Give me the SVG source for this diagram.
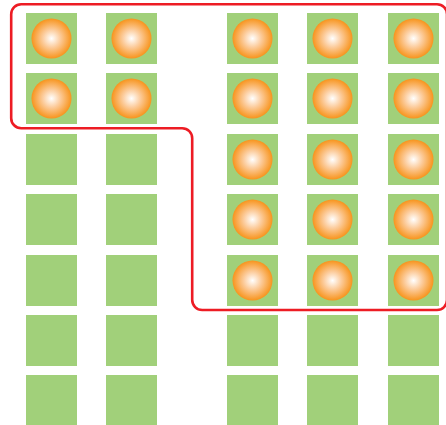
<svg xmlns="http://www.w3.org/2000/svg" width="446" height="425" viewBox="0 0 446 425">
<style>
.sq{fill:#A1D07A}
.ball{fill:url(#g)}
.conn{fill:none;stroke:#ED1C24;stroke-width:2.6}
</style>
<defs>
<radialGradient id="g" cx="0.5" cy="0.5" r="0.5">
<stop offset="0" stop-color="#FFFFFF"/>
<stop offset="0.45" stop-color="#FCCB9A"/>
<stop offset="1" stop-color="#F7941D"/>
</radialGradient>
<symbol id="cell" overflow="visible"><rect class="sq" x="0" y="0" width="51" height="51"/></symbol>
<symbol id="cellb" overflow="visible"><rect class="sq" x="0" y="0" width="51" height="51"/><circle class="ball" cx="25.5" cy="25.5" r="20"/></symbol>
</defs>
<g id="c1r1"><use href="#cellb" x="26" y="13"/></g>
<g id="c2r1"><use href="#cellb" x="106" y="13"/></g>
<g id="c3r1"><use href="#cellb" x="227" y="13"/></g>
<g id="c4r1"><use href="#cellb" x="307" y="13"/></g>
<g id="c5r1"><use href="#cellb" x="388" y="13"/></g>
<g id="c1r2"><use href="#cellb" x="26" y="73"/></g>
<g id="c2r2"><use href="#cellb" x="106" y="73"/></g>
<g id="c3r2"><use href="#cellb" x="227" y="73"/></g>
<g id="c4r2"><use href="#cellb" x="307" y="73"/></g>
<g id="c5r2"><use href="#cellb" x="388" y="73"/></g>
<g id="c1r3"><use href="#cell" x="26" y="134"/></g>
<g id="c2r3"><use href="#cell" x="106" y="134"/></g>
<g id="c3r3"><use href="#cellb" x="227" y="134"/></g>
<g id="c4r3"><use href="#cellb" x="307" y="134"/></g>
<g id="c5r3"><use href="#cellb" x="388" y="134"/></g>
<g id="c1r4"><use href="#cell" x="26" y="194"/></g>
<g id="c2r4"><use href="#cell" x="106" y="194"/></g>
<g id="c3r4"><use href="#cellb" x="227" y="194"/></g>
<g id="c4r4"><use href="#cellb" x="307" y="194"/></g>
<g id="c5r4"><use href="#cellb" x="388" y="194"/></g>
<g id="c1r5"><use href="#cell" x="26" y="255"/></g>
<g id="c2r5"><use href="#cell" x="106" y="255"/></g>
<g id="c3r5"><use href="#cellb" x="227" y="255"/></g>
<g id="c4r5"><use href="#cellb" x="307" y="255"/></g>
<g id="c5r5"><use href="#cellb" x="388" y="255"/></g>
<g id="c1r6"><use href="#cell" x="26" y="315"/></g>
<g id="c2r6"><use href="#cell" x="106" y="315"/></g>
<g id="c3r6"><use href="#cell" x="227" y="315"/></g>
<g id="c4r6"><use href="#cell" x="307" y="315"/></g>
<g id="c5r6"><use href="#cell" x="388" y="315"/></g>
<g id="c1r7"><use href="#cell" x="26" y="375"/></g>
<g id="c2r7"><use href="#cell" x="106" y="375"/></g>
<g id="c3r7"><use href="#cell" x="227" y="375"/></g>
<g id="c4r7"><use href="#cell" x="307" y="375"/></g>
<g id="c5r7"><use href="#cell" x="388" y="375"/></g>
<g id="connectors">
<path class="conn" d="M 21.2,4.2 H 437 A 10 10 0 0 1 447 14.2 V 300 A 10 10 0 0 1 437 310 H 202.2 A 10 10 0 0 1 192.2 300 V 138.2 A 10 10 0 0 0 182.2 128.2 H 21.2 A 10 10 0 0 1 11.2 118.2 V 14.2 A 10 10 0 0 1 21.2 4.2 Z"/>
</g>
</svg>
